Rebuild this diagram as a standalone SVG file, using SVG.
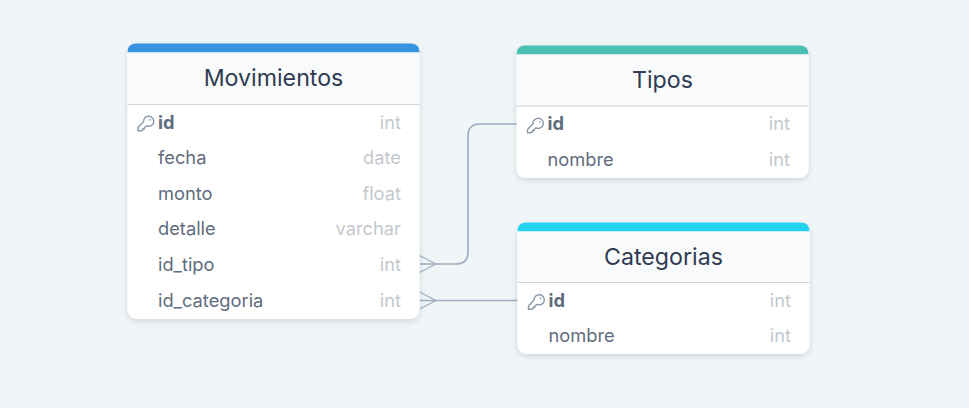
<svg xmlns="http://www.w3.org/2000/svg" xmlns:xlink="http://www.w3.org/1999/xlink" width="969" height="408" viewBox="0 0 969 408">
<style>
text{font-family:Inter,"Liberation Sans",sans-serif}
.card{fill:#fff;filter:url(#sh)}
.head{fill:#f8fafc}
.sep{stroke:#cbd5e0;stroke-width:1;fill:none}
.title{font-size:23.2px;fill:#2f3b52;text-anchor:middle}
.f{font-size:18.3px;fill:#5f6c7e}
.k{font-size:18.3px;fill:#5f6c7e;font-weight:700}
.t{font-size:18.3px;fill:#c4c8cd;text-anchor:end}
.c{fill:none;stroke:#a0aec0;stroke-width:1.7}
.p{fill:none;stroke:#a0aec0;stroke-width:1.2}
.key{fill:none;stroke:#8a97a8;stroke-width:1.4;stroke-linecap:round;stroke-linejoin:round}
</style>
<defs>
<filter id="sh" x="-10%" y="-10%" width="120%" height="125%"><feDropShadow dx="0" dy="2" stdDeviation="3" flood-color="#000" flood-opacity="0.14"/></filter>
<g id="keyi"><path class="key" d="M6.600 -0.400 A5.100 5.100 0 1 1 9.500 3.900 L7.500 5.500 L7.500 6.800 L5.800 6.800 L5.800 8 L4.500 8.700 L1 8.700 L1 5.500 Z"/><circle cx="13.200" cy="-2.200" r="0.9" fill="#8a97a8"/></g>
</defs>
<rect width="969" height="408" fill="#f0f5f8"/>
<g id="connectors">
<path class="c" d="M419.500 264 H456 Q468 264 468 252 V136 Q468 124 480 124 H517"/>
<path class="c" d="M419.500 300.500 H518"/>
<path class="p" d="M419.500 255.500 L436 264 L419.500 272.500"/>
<path class="p" d="M419.500 292 L436 300.500 L419.500 309"/>
</g>
<g id="movimientos">
<rect class="card" x="127.500" y="44" width="292" height="275" rx="9"/>
<path fill="#3792e0" d="M127.500 52 V52.500 H419.500 V52 Q419.500 43.500 410.500 43.500 H136.500 Q127.500 43.500 127.500 52Z"/>
<rect class="head" x="127.500" y="52.500" width="292" height="52"/>
<path class="sep" d="M127.500 104.500 H419.500"/>
<text class="title" x="273.500" y="86">Movimientos</text>
<use xlink:href="#keyi" href="#keyi" x="137" y="122"/>
<text class="k" x="158" y="129">id</text><text class="t" x="401" y="129">int</text>
<text class="f" x="158" y="164">fecha</text><text class="t" x="401" y="164">date</text>
<text class="f" x="158" y="200">monto</text><text class="t" x="401" y="200">float</text>
<text class="f" x="158" y="235">detalle</text><text class="t" x="401" y="235">varchar</text>
<text class="f" x="158" y="271">id_tipo</text><text class="t" x="401" y="271">int</text>
<text class="f" x="158" y="307">id_categoria</text><text class="t" x="401" y="307">int</text>
</g>
<g id="tipos">
<rect class="card" x="516.500" y="46" width="292" height="132" rx="9"/>
<path fill="#4dc0b5" d="M516.500 54 V54.500 H808.500 V54 Q808.500 45.500 799.500 45.500 H525.500 Q516.500 45.500 516.500 54Z"/>
<rect class="head" x="516.500" y="54.500" width="292" height="51.500"/>
<path class="sep" d="M516.500 106 H808.500"/>
<text class="title" x="662.500" y="88">Tipos</text>
<use xlink:href="#keyi" href="#keyi" x="526.500" y="124"/>
<text class="k" x="547.500" y="130">id</text><text class="t" x="790" y="130">int</text>
<text class="f" x="547.500" y="166">nombre</text><text class="t" x="790" y="166">int</text>
</g>
<g id="categorias">
<rect class="card" x="517.500" y="223" width="292" height="131" rx="9"/>
<path fill="#23d3ee" d="M517.500 231 V231.500 H809.500 V231 Q809.500 222.500 800.500 222.500 H526.500 Q517.500 222.500 517.500 231Z"/>
<rect class="head" x="517.500" y="231.500" width="292" height="51"/>
<path class="sep" d="M517.500 282.500 H809.500"/>
<text class="title" x="663.500" y="265">Categorias</text>
<use xlink:href="#keyi" href="#keyi" x="527.500" y="300.500"/>
<text class="k" x="548.500" y="307">id</text><text class="t" x="791" y="307">int</text>
<text class="f" x="548.500" y="342">nombre</text><text class="t" x="791" y="342">int</text>
</g>
</svg>
